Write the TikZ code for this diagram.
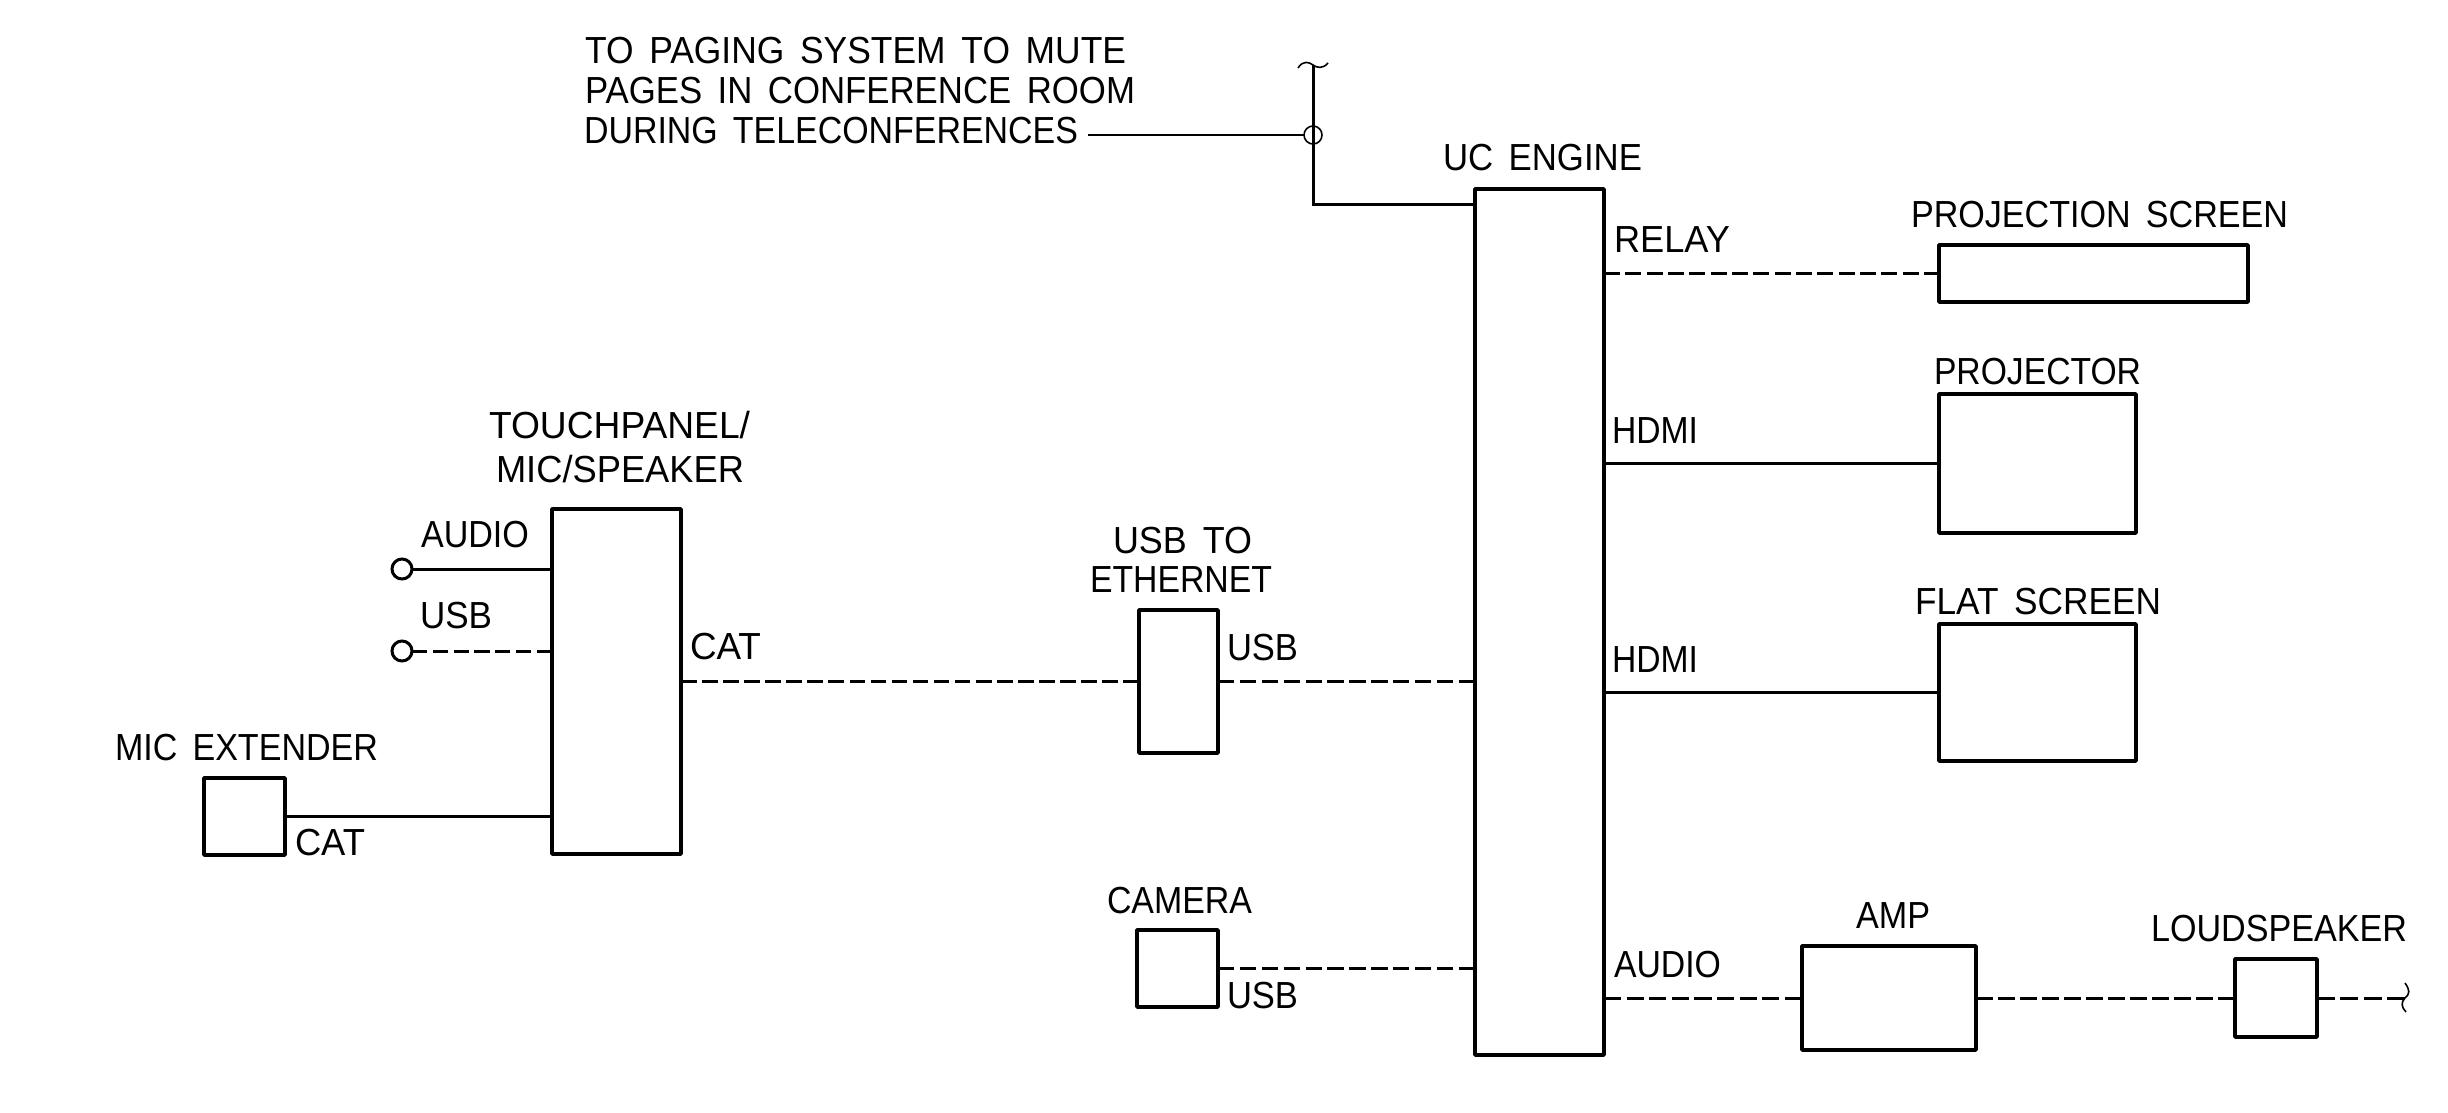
\documentclass[tikz,border=0pt]{standalone}
\usepackage{fontspec}
\setmainfont[WordSpace=1.6]{Liberation Sans}
\newcommand{\labeltext}[5]{\node[lab] (#1) at (#2,#3) {\resizebox{#4pt}{\height}{#5}};}
\newcommand{\boxnode}[5]{\node[devbox,minimum width={(#4-#2)*1pt},minimum height={(#5-#3)*1pt}] (#1) at ({(#2+#4)/2},{(#3+#5)/2}) {};}
\tikzset{
  lab/.style={anchor=base west,inner sep=0pt,outer sep=0pt,font=\fontsize{37.7}{40}\selectfont},
  devbox/.style={draw=black,line width=3.6pt,inner sep=0pt,outer sep=0pt,rectangle,line join=round},
  wire/.style={draw=black,line width=3pt},
  fitdash/.code={%
    \pgfmathsetmacro{\dashon}{(#1+5.5)/round((#1+5.5)/21.5)-5.5}%
    \tikzset{draw=black,line width=3pt,dash pattern=on \dashon pt off 5.5pt}},
  thinwire/.style={draw=black,line width=1.6pt},
  jack/.style={circle,draw=black,line width=3pt,minimum size=20pt,inner sep=0pt,outer sep=0pt},
  tapmark/.style={circle,draw=black,line width=1.6pt,minimum size=18pt,inner sep=0pt,outer sep=0pt}
}
\begin{document}
\begin{tikzpicture}[x=1pt,y=-1pt]
\useasboundingbox (0,0) rectangle (2448,1112);
% boxes
\boxnode{uc}{1475}{189}{1604}{1055}
\boxnode{screen}{1939}{245}{2248}{302}
\boxnode{projector}{1939}{394}{2136}{533}
\boxnode{flat}{1939}{624}{2136}{761}
\boxnode{amp}{1802}{946}{1976}{1050}
\boxnode{speaker}{2235}{959}{2317}{1037}
\boxnode{camera}{1137}{930}{1218}{1007}
\boxnode{usbeth}{1139}{610}{1218}{753}
\boxnode{touch}{552}{509}{681}{854}
\boxnode{mic}{204}{778}{285}{855}
\node[jack] (jackaudio) at (402,569) {};
\node[jack] (jackusb) at (402,651) {};
\node[tapmark] (tap) at (1313,135) {};
% free ends and corners
\coordinate (pagingend) at (1088,135);
\coordinate (feedtop) at (1313,65);
\coordinate (feedcorner) at (1313,204);
\coordinate (speakerend) at (2405,998);
% connectors
\draw[thinwire] (pagingend) -- (tap.west);
\draw[wire] (feedtop) -- (feedcorner) -- (feedcorner -| uc.west);
\draw[fitdash=336] (uc.east |- screen.west) -- (screen.west);
\draw[wire] (uc.east |- projector.west) -- (projector.west);
\draw[wire] (uc.east |- flat.west) -- (flat.west);
\draw[fitdash=198] (uc.east |- amp.west) -- (amp.west);
\draw[fitdash=259] (amp.east) -- (speaker.west |- amp.east);
\draw[fitdash=88] (speaker.east |- speakerend) -- (speakerend);
\draw[fitdash=257] (camera.east |- 0,968) -- (uc.west |- 0,968);
\draw[fitdash=257] (usbeth.east) -- (uc.west |- usbeth.east);
\draw[fitdash=458] (touch.east |- usbeth.west) -- (usbeth.west);
\draw[wire] (jackaudio.east) -- (touch.west |- jackaudio.east);
\draw[fitdash=140] (jackusb.east) -- (touch.west |- jackusb.east);
\draw[wire] (mic.east |- 0,816) -- (touch.west |- 0,816);
% break marks
\draw[thinwire] (1298,68) .. controls (1303,60) and (1309,62) .. (1313,65) .. controls (1317,68) and (1323,69) .. (1328,63);
\draw[thinwire] (2405,983) .. controls (2410,990) and (2410,994) .. (2405,998) .. controls (2401,1002) and (2401,1007) .. (2406,1012);
% labels
\labeltext{l1}{585}{63}{541}{TO PAGING SYSTEM TO MUTE}
\labeltext{l2}{585}{103}{550}{PAGES IN CONFERENCE ROOM}
\labeltext{l3}{584}{143}{494}{DURING TELECONFERENCES}
\labeltext{l4}{1443}{170}{199}{UC ENGINE}
\labeltext{l5}{1614}{252}{116}{RELAY}
\labeltext{l6}{1911}{227}{377}{PROJECTION SCREEN}
\labeltext{l7}{1934}{384}{207}{PROJECTOR}
\labeltext{l8}{1612}{443}{86}{HDMI}
\labeltext{l9}{1612}{672}{86}{HDMI}
\labeltext{l10}{1915}{614}{246}{FLAT SCREEN}
\labeltext{l11}{1614}{977}{107}{AUDIO}
\labeltext{l12}{1856}{928}{74}{AMP}
\labeltext{l13}{2151}{941}{256}{LOUDSPEAKER}
\labeltext{l14}{1227}{1008}{71}{USB}
\labeltext{l15}{1107}{913}{145}{CAMERA}
\labeltext{l16}{1113}{553}{139}{USB TO}
\labeltext{l17}{1090}{592}{182}{ETHERNET}
\labeltext{l18}{1227}{660}{71}{USB}
\labeltext{l19}{690}{659}{71}{CAT}
\labeltext{l20}{489}{438}{261}{TOUCHPANEL/}
\labeltext{l21}{496}{482}{248}{MIC/SPEAKER}
\labeltext{l22}{421}{547}{108}{AUDIO}
\labeltext{l23}{420}{628}{72}{USB}
\labeltext{l24}{115}{760}{263}{MIC EXTENDER}
\labeltext{l25}{295}{855}{70}{CAT}
\end{tikzpicture}
\end{document}
